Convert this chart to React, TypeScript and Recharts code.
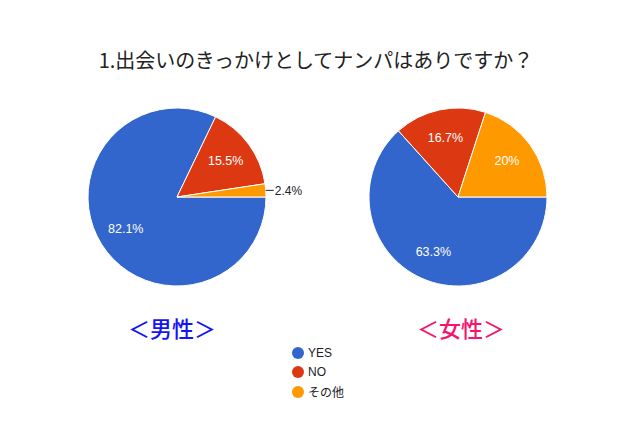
import { PieChart, Pie, Cell, Legend } from "recharts";

const CATEGORIES = ["YES", "NO", "その他"];
const COLORS = ["#3366cc", "#dc3912", "#ff9900"];
const MALE_COUNTS = [69, 13, 2];
const FEMALE_COUNTS = [19, 5, 6];

const TITLE = "1.出会いのきっかけとしてナンパはありですか？";
const MALE_LABEL = "＜男性＞";
const FEMALE_LABEL = "＜女性＞";

const RADIAN = Math.PI / 180;
const LABEL_FONT = "Arial, 'Liberation Sans', sans-serif";
const JP_FONT = "'Noto Sans CJK JP', sans-serif";

const toRows = (counts: number[]) =>
  CATEGORIES.map((name, i) => ({ name, value: counts[i] }));

const maleData = toRows(MALE_COUNTS);
const femaleData = toRows(FEMALE_COUNTS);

function formatPct(p: number) {
  return (p * 100).toFixed(1).replace(/\.0$/, "") + "%";
}

// google-style slice label: inside for big slices, outside with a tick for tiny ones
function sliceLabel(props: any) {
  const { cx, cy, midAngle, outerRadius, percent } = props;
  const cos = Math.cos(-midAngle * RADIAN);
  const sin = Math.sin(-midAngle * RADIAN);
  if (percent < 0.05) {
    const x0 = cx + outerRadius * cos;
    const y0 = cy + outerRadius * sin;
    return (
      <g>
        <line x1={x0} y1={y0} x2={x0 + 8} y2={y0} stroke="#222" strokeWidth={1} />
        <text
          x={x0 + 9}
          y={y0 + 1}
          fill="#222"
          fontSize={12}
          fontFamily={LABEL_FONT}
          textAnchor="start"
          dominantBaseline="central"
        >
          {formatPct(percent)}
        </text>
      </g>
    );
  }
  const r = outerRadius * 0.68;
  return (
    <text
      x={cx + r * cos}
      y={cy + r * sin}
      fill="#fff"
      fontSize={12.5}
      fontFamily={LABEL_FONT}
      textAnchor="middle"
      dominantBaseline="central"
    >
      {formatPct(percent)}
    </text>
  );
}

function LegendContent() {
  return (
    <div style={{ fontFamily: LABEL_FONT, fontSize: 12, color: "#222" }}>
      {CATEGORIES.map((c, i) => (
        <div key={c} style={{ display: "flex", alignItems: "center", height: 19.5 }}>
          <span
            style={{
              display: "inline-block",
              width: 12,
              height: 12,
              borderRadius: "50%",
              background: COLORS[i],
              marginRight: 4,
            }}
          />
          <span style={{ fontFamily: i === 2 ? JP_FONT : LABEL_FONT }}>{c}</span>
        </div>
      ))}
    </div>
  );
}

export default function App() {
  return (
    <div style={{ position: "absolute", left: 0, top: 0, width: 640, height: 427, background: "#fff" }}>
      <div
        style={{
          position: "absolute",
          left: 0,
          top: 47,
          width: 632,
          textAlign: "center",
          fontFamily: JP_FONT,
          fontSize: 20,
          lineHeight: "26px",
          color: "#222",
        }}
      >
        {TITLE}
      </div>
      <PieChart width={640} height={427} margin={{ top: 0, right: 0, bottom: 0, left: 0 }}>
        <Pie
          data={maleData}
          dataKey="value"
          nameKey="name"
          cx={177}
          cy={197}
          outerRadius={89}
          startAngle={0}
          endAngle={-360}
          stroke="#fff"
          strokeWidth={1}
          label={sliceLabel}
          labelLine={false}
          isAnimationActive={false}
        >
          {maleData.map((d, i) => (
            <Cell key={d.name} fill={COLORS[i]} />
          ))}
        </Pie>
        <Pie
          data={femaleData}
          dataKey="value"
          nameKey="name"
          cx={458}
          cy={197}
          outerRadius={89}
          startAngle={0}
          endAngle={-360}
          stroke="#fff"
          strokeWidth={1}
          label={sliceLabel}
          labelLine={false}
          isAnimationActive={false}
        >
          {femaleData.map((d, i) => (
            <Cell key={d.name} fill={COLORS[i]} />
          ))}
        </Pie>
        <Legend
          content={<LegendContent />}
          wrapperStyle={{ position: "absolute", left: 292, top: 343, width: 120, bottom: "auto" }}
        />
      </PieChart>
      <div
        style={{
          position: "absolute",
          left: 72,
          top: 312,
          width: 200,
          textAlign: "center",
          fontFamily: JP_FONT,
          fontSize: 22,
          fontWeight: 500,
          lineHeight: "30px",
          color: "#1414f5",
        }}
      >
        {MALE_LABEL}
      </div>
      <div
        style={{
          position: "absolute",
          left: 361,
          top: 312,
          width: 200,
          textAlign: "center",
          fontFamily: JP_FONT,
          fontSize: 22,
          fontWeight: 500,
          lineHeight: "30px",
          color: "#f5146e",
        }}
      >
        {FEMALE_LABEL}
      </div>
    </div>
  );
}
